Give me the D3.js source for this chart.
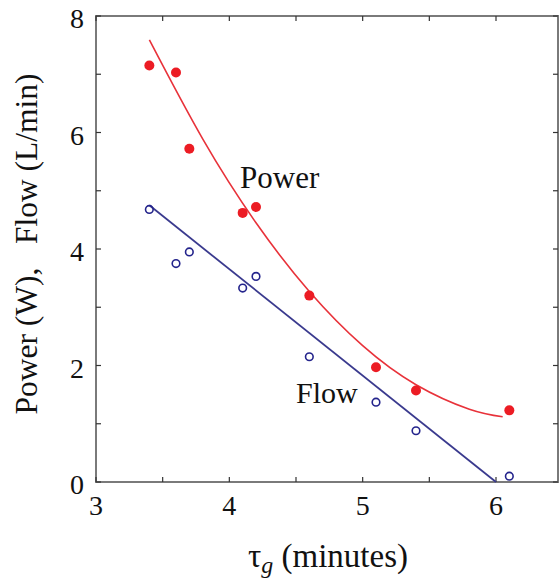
<!DOCTYPE html>
<html>
<head>
<meta charset="utf-8">
<script src="https://cdn.jsdelivr.net/npm/d3@7"></script>
<style>
  html, body { margin: 0; padding: 0; background: #fff; }
  svg { display: block; }
  text { font-family: "Liberation Serif", "Times New Roman", serif; fill: #111; }
</style>
</head>
<body>
<svg id="chart" width="560" height="579"></svg>
<script>
// Gelation time τg (minutes) for each run
const tauG = [3.4, 3.6, 3.7, 4.1, 4.2, 4.6, 5.1, 5.4, 6.1];
// Measured power (W) and flow (L/min)
const power = [7.15, 7.03, 5.72, 4.62, 4.72, 3.20, 1.97, 1.57, 1.23];
const flow  = [4.68, 3.75, 3.95, 3.33, 3.53, 2.15, 1.37, 0.88, 0.10];

// Fitted trend curves (sampled points)
const powerFitX = [3.4, 3.8, 4.2, 4.6, 5.0, 5.4, 5.8, 6.05];
const powerFitY = [7.59, 5.89, 4.45, 3.27, 2.34, 1.67, 1.25, 1.12];
const flowFitX  = [3.4, 6.0];
const flowFitY  = [4.75, 0.0];

// Axis ticks
const xTickLabels = [3, 4, 5, 6];
const xMinorTicks = [3.5, 4.5, 5.5];
const yTickLabels = [0, 2, 4, 6, 8];
const yMinorTicks = [1, 3, 5, 7];

const svg = d3.select("#chart");
const plotL = 96, plotR = 558, plotT = 16, plotB = 482;

const x = d3.scaleLinear().domain([3, 6.465]).range([plotL, plotR]);
const y = d3.scaleLinear().domain([0, 8]).range([plotB, plotT]);

const axisColor = "#7a7a7a";
const tickLen = 5;

// Frame
svg.append("rect")
  .attr("x", plotL).attr("y", plotT)
  .attr("width", plotR - plotL).attr("height", plotB - plotT)
  .attr("fill", "none").attr("stroke", axisColor).attr("stroke-width", 2);

// Inward ticks on all four sides
const allX = xTickLabels.concat(xMinorTicks);
const allY = yTickLabels.concat(yMinorTicks);
const tg = svg.append("g").attr("stroke", "#333").attr("stroke-width", 1.2);
allX.forEach(v => {
  tg.append("line").attr("x1", x(v)).attr("x2", x(v)).attr("y1", plotB).attr("y2", plotB - tickLen);
  tg.append("line").attr("x1", x(v)).attr("x2", x(v)).attr("y1", plotT).attr("y2", plotT + tickLen);
});
allY.forEach(v => {
  tg.append("line").attr("y1", y(v)).attr("y2", y(v)).attr("x1", plotL).attr("x2", plotL + tickLen);
  tg.append("line").attr("y1", y(v)).attr("y2", y(v)).attr("x1", plotR).attr("x2", plotR - tickLen);
});

// Tick labels
svg.append("g").selectAll("text").data(xTickLabels).join("text")
  .attr("x", d => x(d)).attr("y", 515)
  .attr("text-anchor", "middle").attr("font-size", 28)
  .text(d => d);
svg.append("g").selectAll("text").data(yTickLabels).join("text")
  .attr("x", 77).attr("y", d => y(d) + 12)
  .attr("text-anchor", "middle").attr("font-size", 28)
  .text(d => d);

// Axis titles
const xt = svg.append("text")
  .attr("x", 248).attr("y", 567)
  .attr("font-size", 33);
xt.append("tspan").text("τ");
xt.append("tspan").attr("font-style", "italic").attr("font-size", 24).attr("dy", 6).text("g");
xt.append("tspan").attr("dy", -6).text(" (minutes)");

svg.append("text")
  .attr("transform", "translate(37,244) rotate(-90)")
  .attr("text-anchor", "middle")
  .attr("font-size", 31.5)
  .style("white-space", "pre")
  .text("Power (W),   Flow (L/min)");

// Fit curves
svg.append("path")
  .datum(powerFitX.map((v, i) => [v, powerFitY[i]]))
  .attr("d", d3.line().x(d => x(d[0])).y(d => y(d[1])).curve(d3.curveNatural))
  .attr("fill", "none").attr("stroke", "#e8323a").attr("stroke-width", 1.6);
svg.append("path")
  .datum(flowFitX.map((v, i) => [v, flowFitY[i]]))
  .attr("d", d3.line().x(d => x(d[0])).y(d => y(d[1])))
  .attr("fill", "none").attr("stroke", "#3a3a8e").attr("stroke-width", 1.8);

// Data points
svg.append("g").selectAll("circle").data(tauG).join("circle")
  .attr("cx", d => x(d)).attr("cy", (d, i) => y(power[i]))
  .attr("r", 5).attr("fill", "#ec1c24");
svg.append("g").selectAll("circle").data(tauG).join("circle")
  .attr("cx", d => x(d)).attr("cy", (d, i) => y(flow[i]))
  .attr("r", 3.8).attr("fill", "none").attr("stroke", "#24248c").attr("stroke-width", 1.6);

// Series annotations
svg.append("text").attr("x", 240).attr("y", 188).attr("font-size", 31).text("Power");
svg.append("text").attr("x", 296).attr("y", 403).attr("font-size", 30).text("Flow");
</script>
</body>
</html>
